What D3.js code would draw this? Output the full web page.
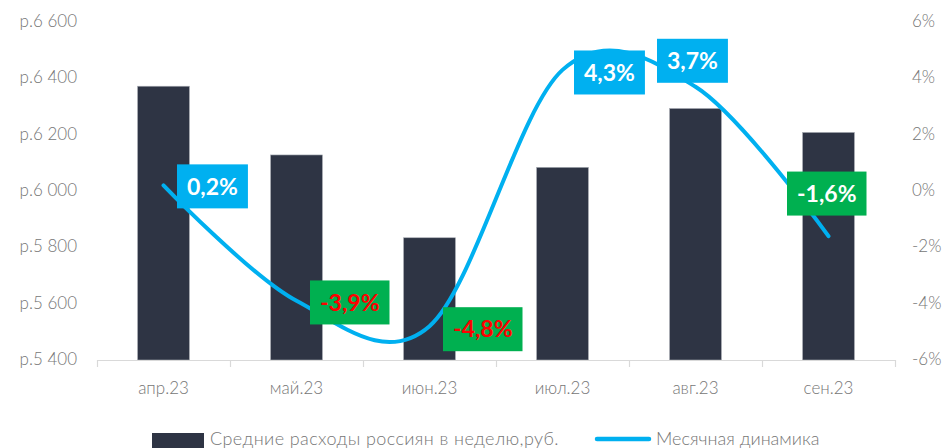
<!DOCTYPE html>
<html>
<head>
<meta charset="utf-8">
<script src="https://cdn.jsdelivr.net/npm/d3@7"></script>
<style>
  body { margin: 0; background: #fff; }
  svg { display: block; font-family: Lato, "Open Sans", sans-serif; }
</style>
</head>
<body>
<svg id="chart" width="950" height="448"></svg>
<script>
// данные
const months = ["апр.23", "май.23", "июн.23", "июл.23", "авг.23", "сен.23"];
const spending = [6372, 6128, 5834, 6084, 6293, 6208];
const monthlyChange = [0.2, -3.9, -4.8, 4.3, 3.7, -1.6];
const leftTicks = [5400, 5600, 5800, 6000, 6200, 6400, 6600];
const rightTicks = [-6, -4, -2, 0, 2, 4, 6];
const seriesNames = ["Средние расходы россиян в неделю,руб.", "Месячная динамика"];

// подписи: смещение левого края плашки и центра по y от точки
const labelOffsets = [[13.5, 1], [13.5, 1.6], [13.5, 3], [11.5, 2.6], [-38.5, -26], [-41.5, -42.5]];
const labelTextColors = ["#fff", "#ff0000", "#ff0000", "#fff", "#fff", "#fff"];

const svg = d3.select("#chart");
const plotLeft = 97, plotRight = 895, plotTop = 22, plotBottom = 360;
const gray = "#767676";

const x = d3.scaleBand()
    .domain(months)
    .range([plotLeft, plotRight])
    .paddingInner(0.61)
    .paddingOuter(0.305);

const yLeft = d3.scaleLinear().domain([5400, 6600]).range([plotBottom, plotTop]);
const yRight = d3.scaleLinear().domain([-6, 6]).range([plotBottom, plotTop]);

// столбцы
svg.selectAll(".bar")
    .data(spending)
    .enter()
    .append("rect")
    .attr("class", "bar")
    .attr("x", (d, i) => x(months[i]))
    .attr("y", d => yLeft(d))
    .attr("width", x.bandwidth())
    .attr("height", d => plotBottom - yLeft(d))
    .style("fill", "#2e3444")
    .style("stroke", "#a9adb5")
    .style("stroke-width", 0.6);

// ось x
svg.append("line")
    .attr("x1", plotLeft).attr("x2", plotRight)
    .attr("y1", plotBottom + 0.5).attr("y2", plotBottom + 0.5)
    .style("stroke", "#d9d9d9")
    .style("stroke-width", 1.2);

const step = x.step();
d3.range(months.length + 1).forEach(i => {
    const tx = Math.round(plotLeft + i * step) + 0.5;
    svg.append("line")
        .attr("x1", tx).attr("x2", tx)
        .attr("y1", plotBottom).attr("y2", plotBottom + 7)
        .style("stroke", "#d9d9d9")
        .style("stroke-width", 1.2);
});

svg.selectAll(".xlabel")
    .data(months)
    .enter()
    .append("text")
    .attr("class", "xlabel")
    .attr("x", d => x(d) + x.bandwidth() / 2)
    .attr("y", 388)
    .attr("dy", "0.35em")
    .attr("text-anchor", "middle")
    .style("font-size", "17px")
    .style("font-weight", 300)
    .style("fill", gray)
    .text(d => d);

// левая ось
const fmtRub = d => "р." + d3.format(",")(d).replace(",", " ");
svg.selectAll(".ylabel")
    .data(leftTicks)
    .enter()
    .append("text")
    .attr("class", "ylabel")
    .attr("x", 77)
    .attr("y", d => yLeft(d) - 1)
    .attr("dy", "0.35em")
    .attr("text-anchor", "end")
    .style("font-size", "17px")
    .style("font-weight", 300)
    .style("fill", gray)
    .text(fmtRub);

// правая ось
svg.selectAll(".rlabel")
    .data(rightTicks)
    .enter()
    .append("text")
    .attr("class", "rlabel")
    .attr("x", 912)
    .attr("y", d => yRight(d) - 1)
    .attr("dy", "0.35em")
    .attr("text-anchor", "start")
    .style("font-size", "17px")
    .style("font-weight", 300)
    .style("fill", gray)
    .text(d => d + "%");

// линия
const pts = monthlyChange.map((d, i) => [x(months[i]) + x.bandwidth() / 2, yRight(d)]);
const line = d3.line().curve(d3.curveCardinal.tension(0));

svg.append("path")
    .datum(pts)
    .attr("d", line)
    .style("fill", "none")
    .style("stroke", "#00b0f0")
    .style("stroke-width", 4)
    .style("stroke-linecap", "round");

// плашки с подписями
const fmtPct = d => d.toFixed(1).replace(".", ",") + "%";
monthlyChange.forEach((d, i) => {
    const [px, py] = pts[i];
    const [dx, dy] = labelOffsets[i];
    const g = svg.append("g");
    const txt = g.append("text")
        .attr("y", py + dy)
        .attr("dy", "0.36em")
        .style("font-size", "23px")
        .style("font-weight", 700)
        .style("fill", labelTextColors[i])
        .text(fmtPct(d));
    const w = txt.node().getComputedTextLength() + 20;
    txt.attr("x", px + dx + 10);
    g.insert("rect", "text")
        .attr("x", px + dx)
        .attr("y", py + dy - 22)
        .attr("width", w)
        .attr("height", 44)
        .style("fill", d >= 0 ? "#00b0f0" : "#00b050");
});

// легенда
svg.append("rect")
    .attr("x", 152).attr("y", 433)
    .attr("width", 52).attr("height", 15)
    .style("fill", "#2e3444");
svg.append("text")
    .attr("x", 210).attr("y", 439)
    .attr("dy", "0.35em")
    .style("font-size", "18px")
    .style("font-weight", 300)
    .style("letter-spacing", "0.4px")
    .style("fill", gray)
    .text(seriesNames[0]);
svg.append("line")
    .attr("x1", 597).attr("x2", 649)
    .attr("y1", 439).attr("y2", 439)
    .style("stroke", "#00b0f0")
    .style("stroke-width", 4.5)
    .style("stroke-linecap", "round");
svg.append("text")
    .attr("x", 656).attr("y", 439)
    .attr("dy", "0.35em")
    .style("font-size", "18px")
    .style("font-weight", 300)
    .style("fill", gray)
    .text(seriesNames[1]);
</script>
</body>
</html>
